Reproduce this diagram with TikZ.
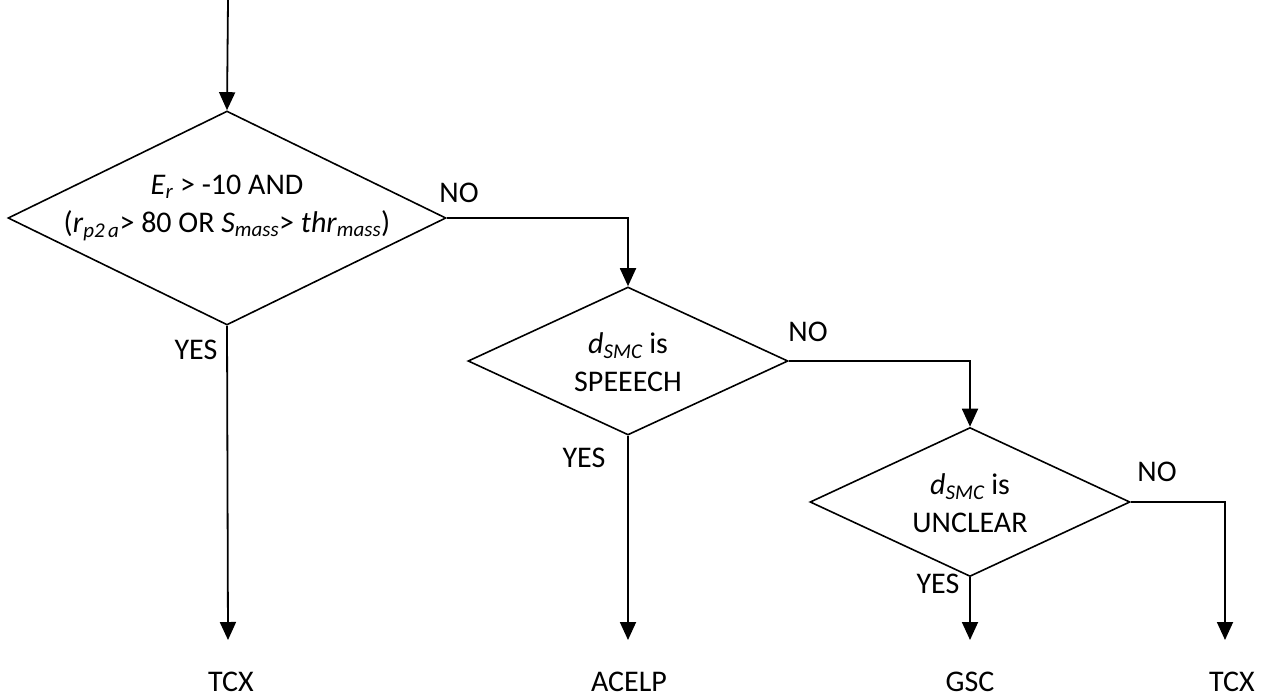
\documentclass[tikz,border=0pt]{standalone}
\usepackage{fontspec}
\setmainfont{Carlito}
\usetikzlibrary{shapes.geometric,arrows.meta}
\newcommand{\iv}[2]{\textit{#1}\textsubscript{\itshape #2}}
\begin{document}
\begin{tikzpicture}[x=1pt,y=-1pt,
  every node/.style={font=\fontsize{30}{38}\selectfont},
  dec/.style={draw,diamond,line width=1.6pt,inner sep=0pt},
  txt/.style={inner sep=0pt,align=center},
  lbl/.style={inner sep=0pt},
  conn/.style={line width=1.8pt},
  arr/.style={conn,-{Triangle[width=16pt,length=18pt]}}]
\useasboundingbox (0,0) rectangle (1266,699);
\coordinate (start) at (228,0);
\node[dec,minimum width=438pt,minimum height=214pt] (d1) at (227,218) {};
\node[txt] (t1) at (227,208)
  {\iv{E}{r} > -10 AND\\(\iv{r}{p2\,a}> 80 OR \iv{S}{mass}> \iv{thr}{mass})};
\node[dec,minimum width=320pt,minimum height=148pt] (d2) at (628,361) {};
\node[txt] (t2) at (628,362) {\iv{d}{SMC} is\\SPEEECH};
\node[dec,minimum width=320pt,minimum height=149pt] (d3) at (970,502) {};
\node[txt] (t3) at (970,503) {\iv{d}{SMC} is\\UNCLEAR};
\node[lbl] (o1) at (231,682) {TCX};
\node[lbl] (o2) at (629,682) {ACELP};
\node[lbl] (o3) at (970,682) {GSC};
\node[lbl] (o4) at (1232,682) {TCX};
\coordinate (e1) at (228,640);
\coordinate (e2) at (628,640);
\coordinate (e3) at (970,640);
\coordinate (e4) at (1225,640);
\draw[arr] (start) -- (d1.north);
\draw[arr] (d1.east) -| (d2.north);
\draw[arr] (d2.east) -| (d3.north);
\draw[arr] (d1.south) -- (e1);
\draw[arr] (d2.south) -- (e2);
\draw[arr] (d3.south) -- (e3);
\draw[arr] (d3.east) -| (e4);
\node[lbl] (n1) at (459,193) {NO};
\node[lbl] (y1) at (196,350) {YES};
\node[lbl] (n2) at (808,332) {NO};
\node[lbl] (y2) at (584,458) {YES};
\node[lbl] (n3) at (1157,472) {NO};
\node[lbl] (y3) at (938,584) {YES};
\end{tikzpicture}
\end{document}
